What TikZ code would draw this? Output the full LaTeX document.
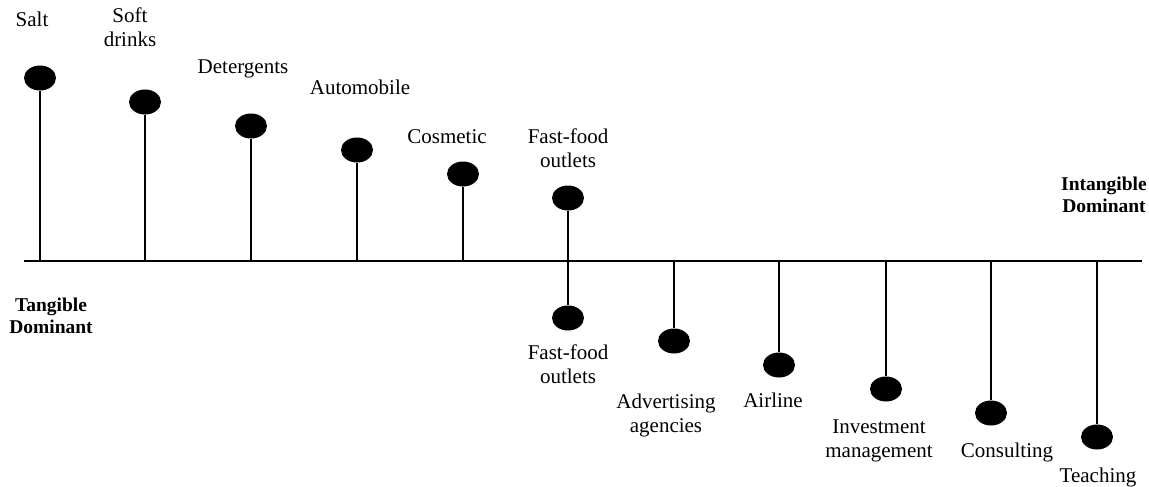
\documentclass[tikz,border=0pt]{standalone}
\usepackage{fontspec}
\setmainfont{Liberation Serif}
\usetikzlibrary{shapes.geometric}
\tikzset{
  dot/.style={ellipse, fill=black, minimum width=32pt, minimum height=25pt, inner sep=0pt},
  stem/.style={line width=1.6pt},
  axisline/.style={line width=1.8pt},
  % base anchor of a multi-line label sits on its last line
  lbl/.style={font=\fontsize{21}{24}\selectfont, align=center, anchor=base, inner sep=0pt},
  endlbl/.style={font=\fontsize{19.5}{22}\selectfont\bfseries, align=center, anchor=base, inner sep=0pt}
}
\begin{document}
\begin{tikzpicture}[x=1pt, y=-1pt]
\useasboundingbox (0,0) rectangle (1149,487);

% the axis
\coordinate (left) at (24,261);
\coordinate (right) at (1142,261);
\draw[axisline] (left) -- (right);

% tangible-dominant products above the axis
\node[dot] (salt) at (40,78) {};
\node[dot] (soft) at (145,102) {};
\node[dot] (deter) at (251,126) {};
\node[dot] (auto) at (357,150) {};
\node[dot] (cosm) at (463,174) {};
\node[dot] (fftop) at (568,198) {};

% intangible-dominant services below the axis
\node[dot] (ffbot) at (568,318) {};
\node[dot] (adv) at (674,341) {};
\node[dot] (air) at (779,365) {};
\node[dot] (inv) at (886,389) {};
\node[dot] (cons) at (991,413) {};
\node[dot] (teach) at (1097,437) {};

% feet of the stems on the axis
\foreach \n/\x in {salt/40, soft/145, deter/251, auto/357, cosm/463,
                   adv/674, air/779, inv/886, cons/991, teach/1097}
  \coordinate (\n-foot) at (\x,261);

\foreach \n in {salt, soft, deter, auto, cosm, adv, air, inv, cons, teach}
  \draw[stem] (\n) -- (\n-foot);
\draw[stem] (fftop) -- (ffbot);

% labels
\node[lbl] (l-salt) at (32,27) {Salt};
\node[lbl] (l-soft) at (130,47) {Soft\\drinks};
\node[lbl] (l-deter) at (243,74) {Detergents};
\node[lbl] (l-auto) at (360,95) {Automobile};
\node[lbl] (l-cosm) at (447,143) {Cosmetic};
\node[lbl] (l-fftop) at (568,167) {Fast-food\\outlets};
\node[lbl] (l-ffbot) at (568,383) {Fast-food\\outlets};
\node[lbl] (l-adv) at (666,432) {Advertising\\agencies};
\node[lbl] (l-air) at (773,407) {Airline};
\node[lbl] (l-inv) at (879,457) {Investment\\management};
\node[lbl] (l-cons) at (1007,457) {Consulting};
\node[lbl] (l-teach) at (1098,482) {Teaching};

\node[endlbl] (tang) at (51,333) {Tangible\\Dominant};
\node[endlbl] (intang) at (1104,212) {Intangible\\Dominant};
\end{tikzpicture}
\end{document}
